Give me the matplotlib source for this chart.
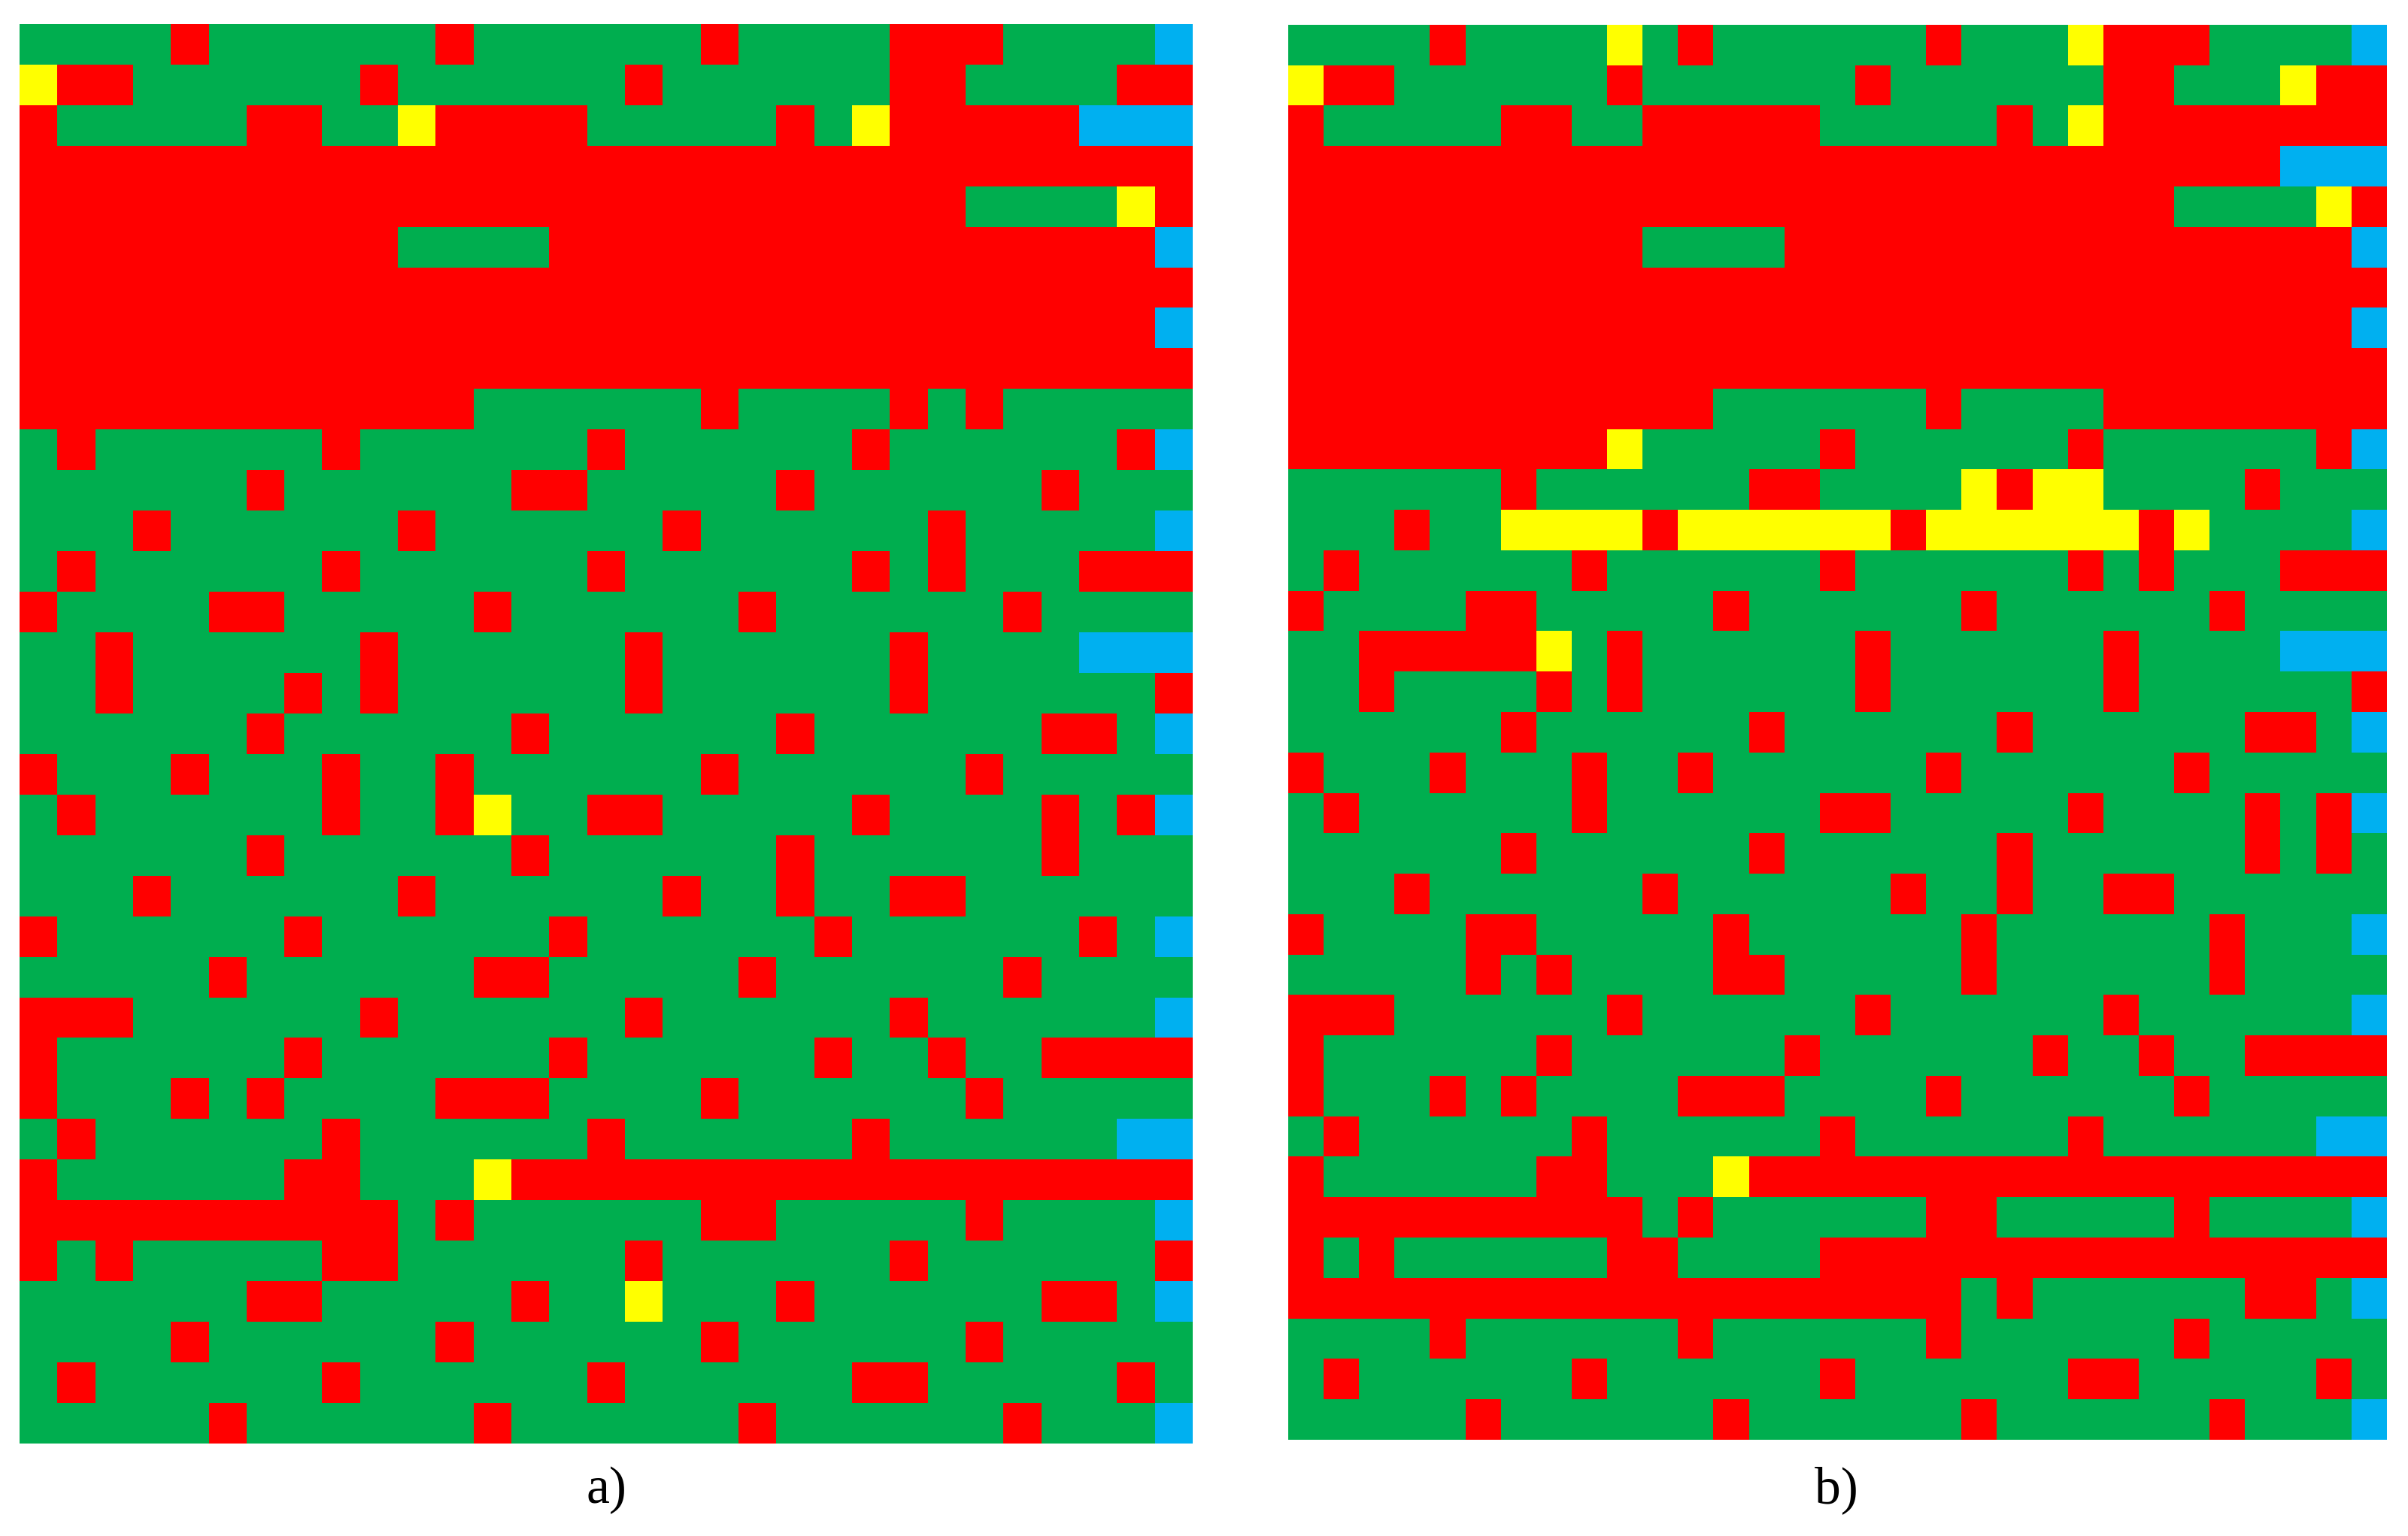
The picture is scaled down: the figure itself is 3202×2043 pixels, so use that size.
import numpy as np
import matplotlib
matplotlib.use("Agg")
import matplotlib.pyplot as plt
from matplotlib.colors import ListedColormap, BoundaryNorm

# Cell states, one string per row, 31 columns (spaces are only for counting)
# G green, R red, Y yellow, B blue
panel_a_rows = [
    "GGGGR GGGGG GRGGG GGGRG GGGRR RGGGG B",
    "YRRGG GGGGR GGGGG GRGGG GGGRR GGGGR R",
    "RGGGG GRRGG YRRRR GGGGG RGYRR RRRBB B",
    "RRRRR RRRRR RRRRR RRRRR RRRRR RRRRR R",
    "RRRRR RRRRR RRRRR RRRRR RRRRR GGGGY R",
    "RRRRR RRRRR GGGGR RRRRR RRRRR RRRRR B",
    "RRRRR RRRRR RRRRR RRRRR RRRRR RRRRR R",
    "RRRRR RRRRR RRRRR RRRRR RRRRR RRRRR B",
    "RRRRR RRRRR RRRRR RRRRR RRRRR RRRRR R",
    "RRRRR RRRRR RRGGG GGGRG GGGRG RGGGG G",
    "GRGGG GGGRG GGGGG RGGGG GGRGG GGGGR B",
    "GGGGG GRGGG GGGRR GGGGG RGGGG GGRGG G",
    "GGGRG GGGGG RGGGG GGRGG GGGGR GGGGG B",
    "GRGGG GGGRG GGGGG RGGGG GGRGR GGGRR R",
    "RGGGG RRGGG GGRGG GGGGR GGGGG GRGGG G",
    "GGRGG GGGGR GGGGG GRGGG GGGRG GGGBB B",
    "GGRGG GGRGR GGGGG GRGGG GGGRG GGGGG R",
    "GGGGG GRGGG GGGRG GGGGG RGGGG GGRRG B",
    "RGGGR GGGRG GRGGG GGGRG GGGGG RGGGG G",
    "GRGGG GGGRG GRYGG RRGGG GGRGG GGRGR B",
    "GGGGG GRGGG GGGRG GGGGG RGGGG GGRGG G",
    "GGGRG GGGGG RGGGG GGRGG RGGRR GGGGG G",
    "RGGGG GGRGG GGGGR GGGGG GRGGG GGGRG B",
    "GGGGG RGGGG GGRRG GGGGR GGGGG GRGGG G",
    "RRRGG GGGGR GGGGG GRGGG GGGRG GGGGG B",
    "RGGGG GGRGG GGGGR GGGGG GRGGR GGRRR R",
    "RGGGR GRGGG GRRRG GGGRG GGGGG RGGGG G",
    "GRGGG GGGRG GGGGG RGGGG GGRGG GGGGB B",
    "RGGGG GGRRG GGYRR RRRRR RRRRR RRRRR R",
    "RRRRR RRRRR GRGGG GGGRR GGGGG RGGGG B",
    "RGRGG GGGRR GGGGG GRGGG GGGRG GGGGG R",
    "GGGGG GRRGG GGGRG GYGGG RGGGG GGRRG B",
    "GGGGR GGGGG GRGGG GGGRG GGGGG RGGGG G",
    "GRGGG GGGRG GGGGG RGGGG GGRRG GGGGR G",
    "GGGGG RGGGG GGRGG GGGGR GGGGG GRGGG B",
]

panel_b_rows = [
    "GGGGR GGGGY GRGGG GGGRG GGYRR RGGGG B",
    "YRRGG GGGGR GGGGG GRGGG GGGRR GGGYR R",
    "RGGGG GRRGG RRRRR GGGGG RGYRR RRRRR R",
    "RRRRR RRRRR RRRRR RRRRR RRRRR RRRBB B",
    "RRRRR RRRRR RRRRR RRRRR RRRRR GGGGY R",
    "RRRRR RRRRR GGGGR RRRRR RRRRR RRRRR B",
    "RRRRR RRRRR RRRRR RRRRR RRRRR RRRRR R",
    "RRRRR RRRRR RRRRR RRRRR RRRRR RRRRR B",
    "RRRRR RRRRR RRRRR RRRRR RRRRR RRRRR R",
    "RRRRR RRRRR RRGGG GGGRG GGGRR RRRRR R",
    "RRRRR RRRRY GGGGG RGGGG GGRGG GGGGR B",
    "GGGGG GRGGG GGGRR GGGGY RYYGG GGRGG G",
    "GGGRG GYYYY RYYYY YYRYY YYYYR YGGGG B",
    "GRGGG GGGRG GGGGG RGGGG GGRGR GGGRR R",
    "RGGGG RRGGG GGRGG GGGGR GGGGG GRGGG G",
    "GGRRR RRYGR GGGGG GRGGG GGGRG GGGBB B",
    "GGRGG GGRGR GGGGG GRGGG GGGRG GGGGG R",
    "GGGGG GRGGG GGGRG GGGGG RGGGG GGRRG B",
    "RGGGR GGGRG GRGGG GGGRG GGGGG RGGGG G",
    "GRGGG GGGRG GGGGG RRGGG GGRGG GGRGR B",
    "GGGGG GRGGG GGGRG GGGGG RGGGG GGRGR G",
    "GGGRG GGGGG RGGGG GGRGG RGGRR GGGGG G",
    "RGGGG RRGGG GGRGG GGGGR GGGGG GRGGG B",
    "GGGGG RGRGG GGRRG GGGGR GGGGG GRGGG G",
    "RRRGG GGGGR GGGGG GRGGG GGGRG GGGGG B",
    "RGGGG GGRGG GGGGR GGGGG GRGGR GGRRR R",
    "RGGGR GRGGG GRRRG GGGRG GGGGG RGGGG G",
    "GRGGG GGGRG GGGGG RGGGG GGRGG GGGGB B",
    "RGGGG GGRRG GGYRR RRRRR RRRRR RRRRR R",
    "RRRRR RRRRR GRGGG GGGRR GGGGG RGGGG B",
    "RGRGG GGGGR RGGGG RRRRR RRRRR RRRRR R",
    "RRRRR RRRRR RRRRR RRRRG RGGGG GGRRG B",
    "GGGGR GGGGG GRGGG GGGRG GGGGG RGGGG G",
    "GRGGG GGGRG GGGGG RGGGG GGRRG GGGGR G",
    "GGGGG RGGGG GGRGG GGGGR GGGGG GRGGG B",
]

state_codes = ["G", "R", "Y", "B"]
state_colours = ["#00AE4F", "#FF0000", "#FFFF00", "#00B0F0"]
panel_labels = ["a)", "b)"]

W, H = 3202, 2043


def to_matrix(rows):
    return np.array([[state_codes.index(c) for c in r.replace(" ", "")] for r in rows])


cmap = ListedColormap(state_colours)
norm = BoundaryNorm(np.arange(-0.5, 4.5), cmap.N)

fig = plt.figure(figsize=(W / 100, H / 100), dpi=100, facecolor="white")

# pixel boxes: left, top, right, bottom
boxes = [(25.5, 32, 1585, 1920), (1713, 33, 3174, 1915)]
label_centres = [(806, 1982), (2442, 1982)]

for rows, box, label, centre in zip([panel_a_rows, panel_b_rows], boxes, panel_labels, label_centres):
    l, t, r, b = box
    ax = fig.add_axes([l / W, 1 - b / H, (r - l) / W, (b - t) / H])
    ax.imshow(to_matrix(rows), cmap=cmap, norm=norm, aspect="auto", interpolation="nearest")
    ax.axis("off")
    fig.text(centre[0] / W, 1 - centre[1] / H, label, ha="center", va="center",
             fontsize=50, family="Liberation Serif", color="black")

fig.savefig("out.png", dpi=100, facecolor="white")
